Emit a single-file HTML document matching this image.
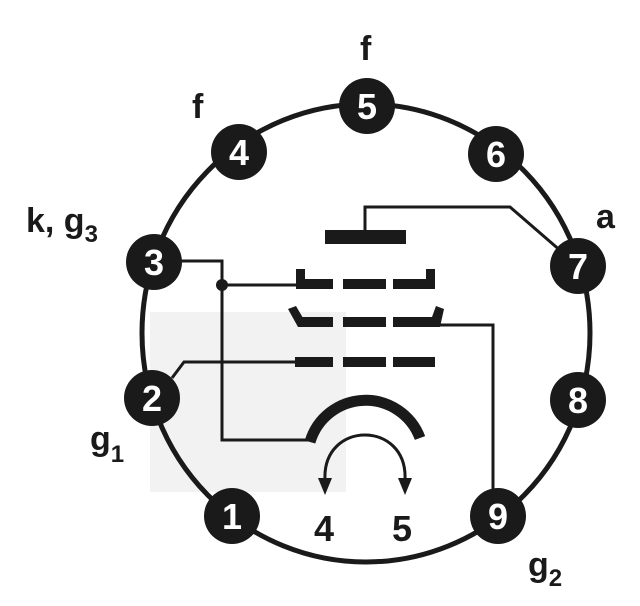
<!DOCTYPE html>
<html><head><meta charset="utf-8"><style>
html,body{margin:0;padding:0;background:#fff;}
svg{display:block;}
text{font-family:"Liberation Sans","DejaVu Sans",sans-serif;font-weight:bold;}
</style></head><body>
<svg width="640" height="606" viewBox="0 0 640 606" xmlns="http://www.w3.org/2000/svg">
<rect x="150" y="312" width="196" height="180" fill="#f2f2f2"/>
<ellipse cx="366" cy="333" rx="224" ry="229" fill="none" stroke="#1a1a1a" stroke-width="5"/>
<g fill="#1a1a1a">
<circle cx="367" cy="106" r="28"/><circle cx="239" cy="152" r="28"/><circle cx="496" cy="154" r="28"/>
<circle cx="154" cy="262" r="28"/><circle cx="578" cy="266" r="28"/><circle cx="152" cy="398" r="28"/>
<circle cx="578" cy="400" r="28"/><circle cx="232" cy="516" r="28"/><circle cx="498" cy="516" r="28"/>
</g>
<g fill="#fff" font-size="36" text-anchor="middle">
<text x="367" y="119">5</text><text x="239" y="165">4</text><text x="496" y="167">6</text>
<text x="154" y="275">3</text><text x="578" y="279">7</text><text x="152" y="411">2</text>
<text x="578" y="413">8</text><text x="232" y="529">1</text><text x="498" y="529">9</text>
</g>
<g fill="none" stroke="#1a1a1a" stroke-width="3">
<polyline points="365,230 365,207 510,207 562,252"/>
<polyline points="178,261 222,261 222,440 308,440"/>
<line x1="222" y1="285" x2="300" y2="285"/>
<polyline points="432,325 493,325 493,490"/>
<polyline points="172,378 184,362 296,362"/>
</g>
<circle cx="222" cy="285" r="6" fill="#1a1a1a"/>
<g fill="#1a1a1a">
<rect x="325" y="230" width="81" height="14"/>
<rect x="296" y="279" width="37" height="10"/><rect x="296" y="269" width="9" height="20"/>
<rect x="343" y="279" width="43" height="10"/>
<rect x="393" y="279" width="42" height="10"/><rect x="426" y="269" width="9" height="20"/>
<rect x="298" y="317" width="35" height="10"/><polygon points="288,309 296,306 303,318 298,327"/>
<rect x="343" y="317" width="43" height="10"/>
<rect x="393" y="317" width="40" height="10"/><polygon points="432,317 436,306 444,309 440,327 432,327"/>
<rect x="295" y="357" width="38" height="10"/><rect x="343" y="357" width="43" height="10"/><rect x="393" y="357" width="42" height="10"/>
</g>
<path d="M310,442 A58,58 0 0 1 420,438" fill="none" stroke="#1a1a1a" stroke-width="11"/>
<path d="M325,480 C322,420 408,420 405,480" fill="none" stroke="#1a1a1a" stroke-width="3"/>
<polygon points="318,478 332,478 325,495" fill="#1a1a1a"/>
<polygon points="398,478 412,478 405,495" fill="#1a1a1a"/>
<g fill="#1a1a1a" font-size="36" text-anchor="middle" style="font-weight:normal">
<text x="324" y="541">4</text><text x="402" y="541">5</text>
</g>
<g fill="#1a1a1a" font-size="34">
<text x="360" y="60">f</text>
<text x="192" y="118">f</text>
<text x="26" y="232">k, g<tspan font-size="24" dy="10">3</tspan></text>
<text x="596" y="228">a</text>
<text x="90" y="450">g<tspan font-size="24" dy="12">1</tspan></text>
<text x="528" y="576">g<tspan font-size="24" dy="10">2</tspan></text>
</g>
</svg>
</body></html>
